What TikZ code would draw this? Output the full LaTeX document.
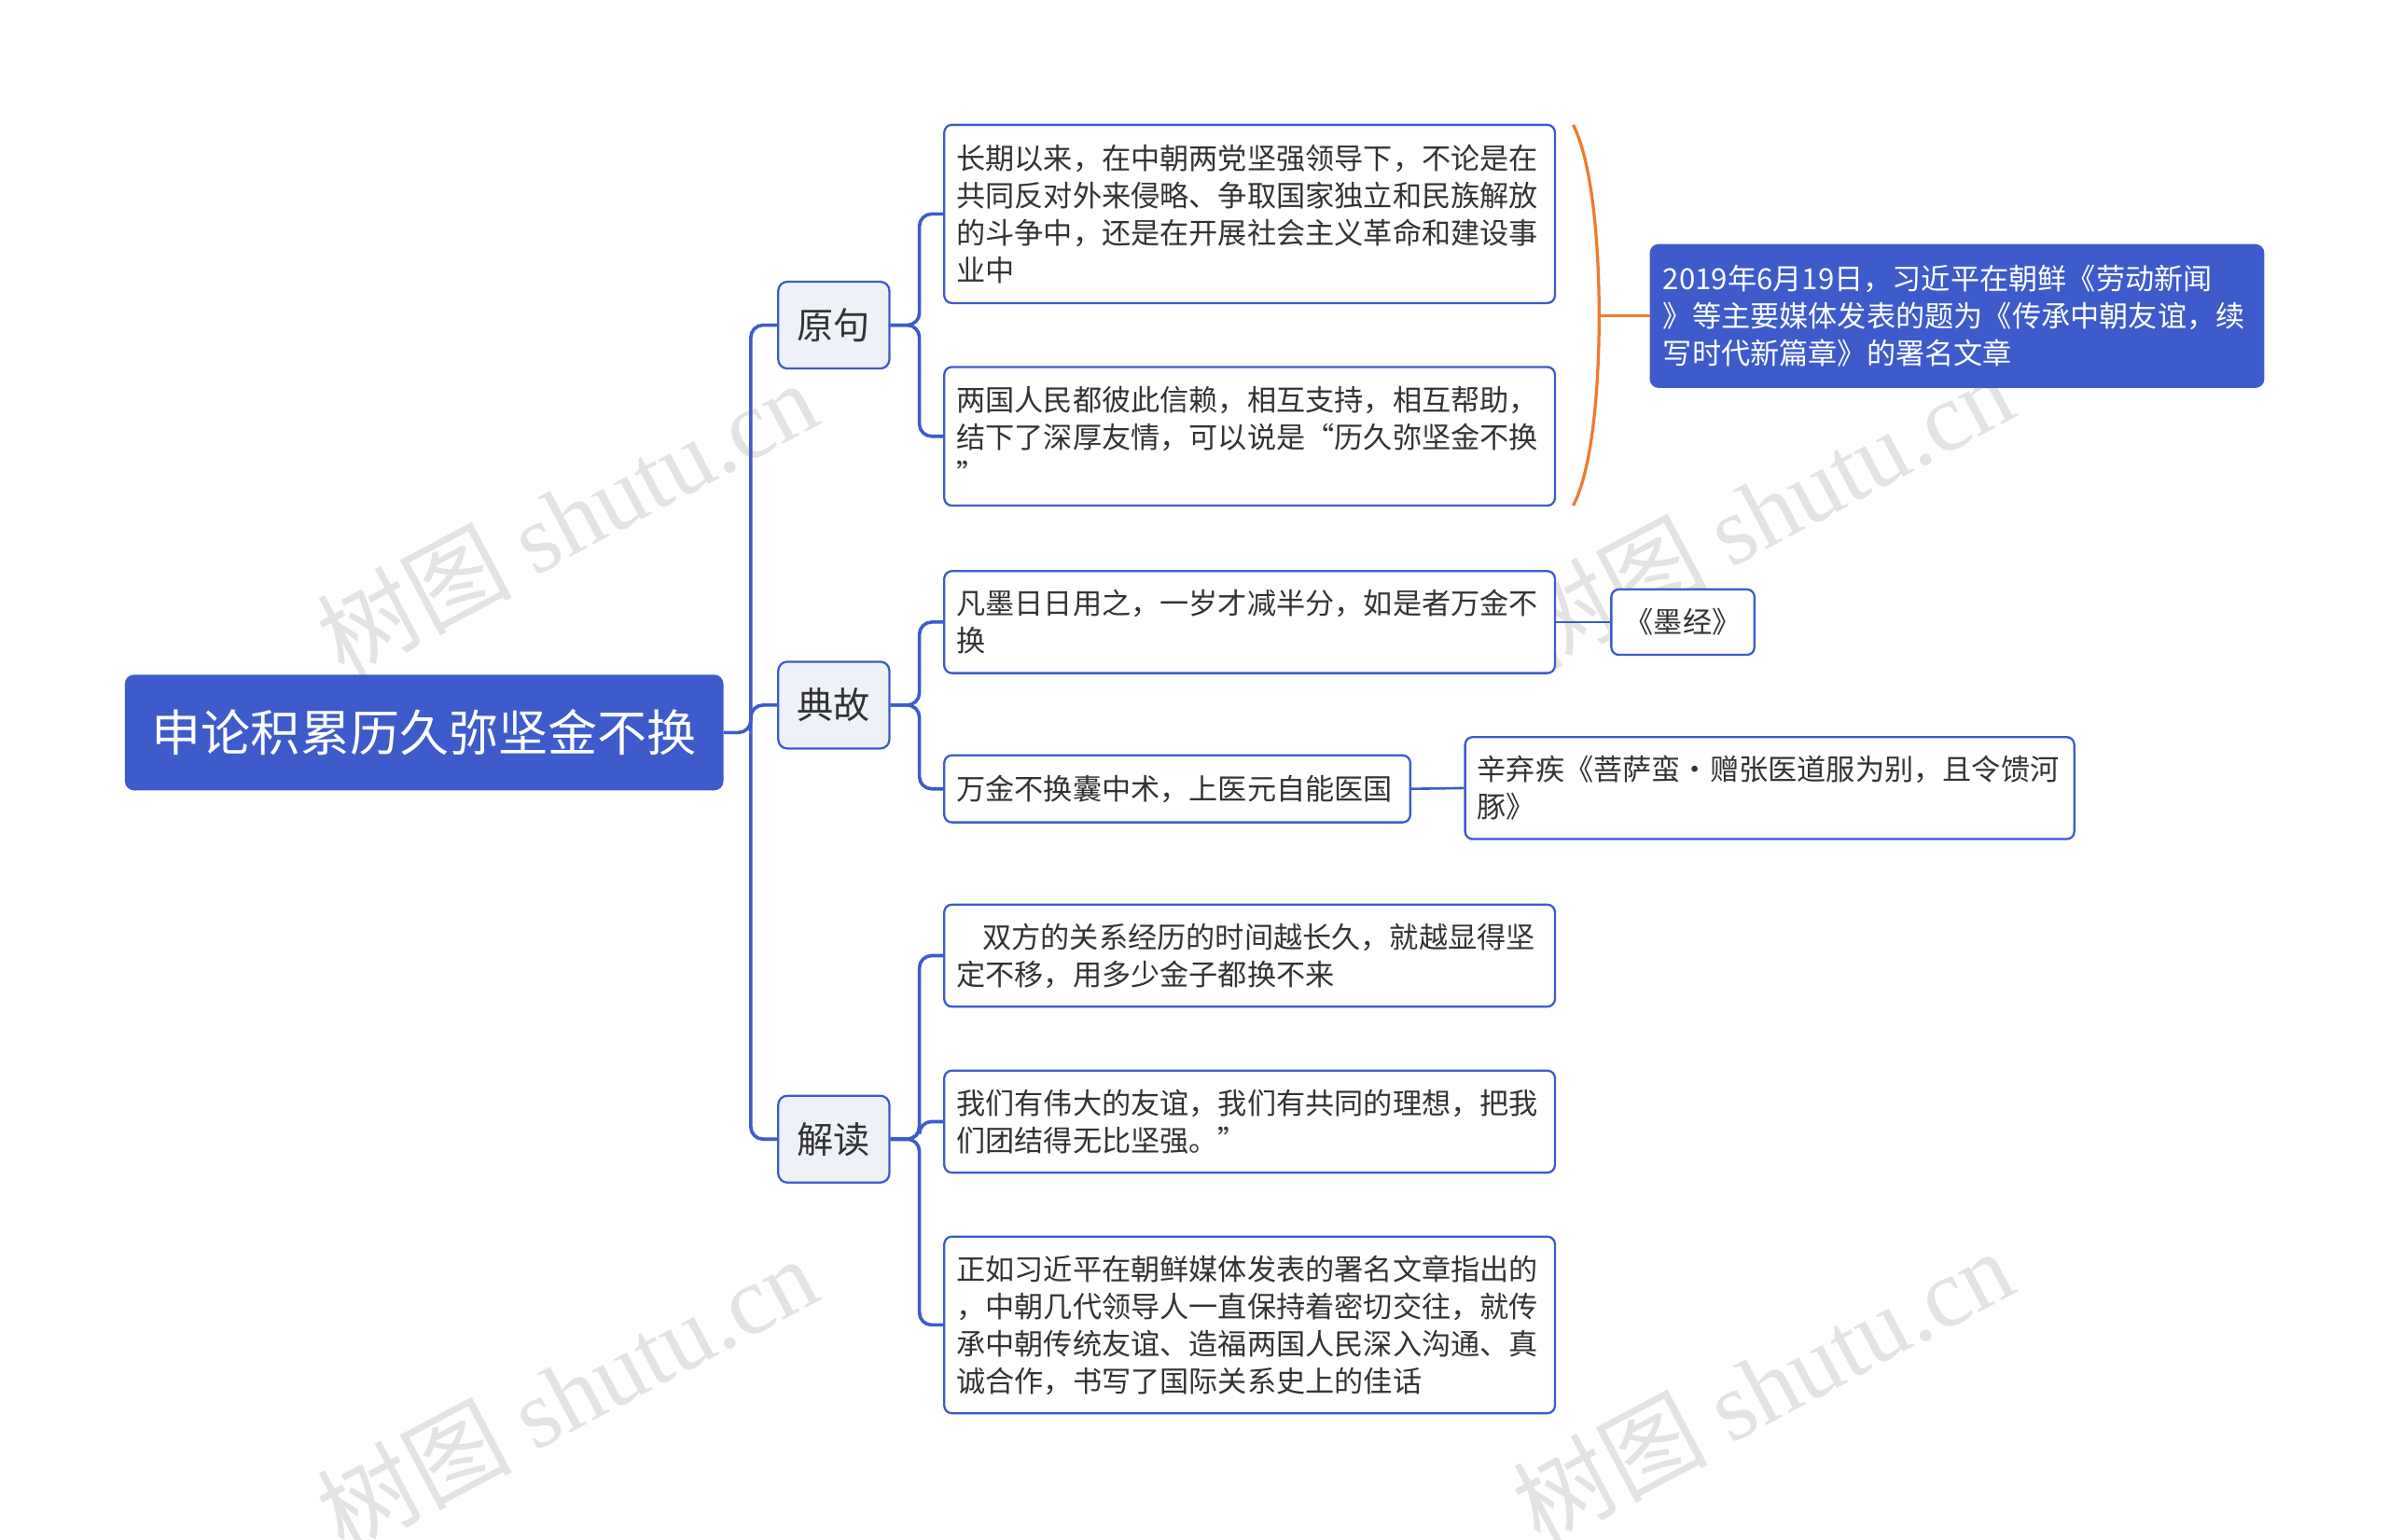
\documentclass[tikz,border=0pt]{standalone}
\usepackage{fontspec}
\setmainfont{Noto Sans CJK SC}
\newfontfamily\wmfont{Liberation Serif}
\definecolor{mblue}{HTML}{3D5BCB}
\definecolor{lfill}{HTML}{EEF1F8}
\definecolor{txt}{HTML}{333333}
\definecolor{mor}{HTML}{F07A2E}
\begin{document}
\begin{tikzpicture}[x=1pt,y=-1pt,
  leaf/.style={draw=mblue,line width=1.4pt,rounded corners=5pt,fill=white,text=txt,
    font=\fontsize{19.1}{24.5}\selectfont,align=left,inner sep=0pt},
  child/.style={draw=mblue,line width=1.4pt,rounded corners=6pt,fill=lfill,text=txt,
    font=\fontsize{24}{28}\selectfont,minimum width=73pt,minimum height=57pt,inner sep=0pt},
  conn/.style={draw=mblue,line width=2.2pt,rounded corners=8pt},
  wm/.style={text=gray!22,font=\fontsize{64}{64}\selectfont,rotate=28}]
\useasboundingbox (0,0) rectangle (1568,1011);
\fill[white] (0,0) rectangle (1568,1011);
% watermarks
\node[wm] (w1) at (372,340) {树图 {\wmfont shutu.cn}};
\node[wm] (w2) at (1157,335) {树图 {\wmfont shutu.cn}};
\node[wm] (w3) at (372,915) {树图 {\wmfont shutu.cn}};
\node[wm] (w4) at (1157,910) {树图 {\wmfont shutu.cn}};
% root
\node[fill=mblue,rounded corners=6pt,text=white,minimum width=393pt,minimum height=76pt,
  font=\fontsize{32.5}{36}\selectfont,inner sep=0pt] (root) at (278.5,481) {申论积累历久弥坚金不换};
\node[child] (c1) at (547.5,213.5) {原句};
\node[child] (c2) at (547.5,463) {典故};
\node[child] (c3) at (547.5,748) {解读};
% leaves
\node[leaf,minimum width=401pt,minimum height=117pt,text width=385pt] (l1) at (820.5,140.5)
 {长期以来，在中朝两党坚强领导下，不论是在\\共同反对外来侵略、争取国家独立和民族解放\\的斗争中，还是在开展社会主义革命和建设事\\业中};
\node[leaf,minimum width=401pt,minimum height=91pt,text width=385pt] (l2) at (820.5,286.5)
 {两国人民都彼此信赖，相互支持，相互帮助，\\结下了深厚友情，可以说是“历久弥坚金不换\\”};
\node[leaf,minimum width=401pt,minimum height=67pt,text width=385pt] (l3) at (820.5,408.5)
 {凡墨日日用之，一岁才减半分，如是者万金不\\换};
\node[leaf,minimum width=306pt,minimum height=44pt,text width=290pt] (l4) at (773,518)
 {万金不换囊中术，上医元自能医国};
\node[leaf,minimum width=401pt,minimum height=67pt,text width=385pt] (l5) at (820.5,627.5)
 {\hspace*{0.9em}双方的关系经历的时间越长久，就越显得坚\\定不移，用多少金子都换不来};
\node[leaf,minimum width=401pt,minimum height=67pt,text width=385pt] (l6) at (820.5,736.5)
 {我们有伟大的友谊，我们有共同的理想，把我\\们团结得无比坚强。”};
\node[leaf,minimum width=401pt,minimum height=116pt,text width=385pt] (l7) at (820.5,870)
 {正如习近平在朝鲜媒体发表的署名文章指出的\\，中朝几代领导人一直保持着密切交往，就传\\承中朝传统友谊、造福两国人民深入沟通、真\\诚合作，书写了国际关系史上的佳话};
\node[leaf,minimum width=94pt,minimum height=43pt,align=center] (m1) at (1105,408.5) {《墨经》};
\node[leaf,minimum width=400pt,minimum height=67pt,text width=384pt] (m2) at (1162,517.5)
 {辛弃疾《菩萨蛮·赠张医道服为别，且令馈河\\豚》};
\node[leaf,fill=mblue,draw=mblue,text=white,minimum width=402pt,minimum height=93pt,text width=386pt] (sb) at (1285,207.5)
 {2019年6月19日，习近平在朝鲜《劳动新闻\\》等主要媒体发表的题为《传承中朝友谊，续\\写时代新篇章》的署名文章};
% connectors
\coordinate (sp) at (493,481);
\draw[conn] (root.east) -- (sp) |- (c1.west);
\draw[conn] (sp) |- (c2.west);
\draw[conn] (sp) |- (c3.west);
\foreach \c/\l in {c1/l1,c1/l2,c2/l3,c2/l4,c3/l5,c3/l6,c3/l7}{
  \draw[conn] (\c.east) -- ++(19,0) |- (\l.west);
}
\draw[draw=mblue,line width=1.6pt] (l3.east) -- (m1.west);
\draw[draw=mblue,line width=1.6pt] (l4.east) -- (m2.west);
% brace
\coordinate (bt) at (1033,82);
\coordinate (bm) at (1050,207.5);
\coordinate (bb) at (1033,332);
\draw[mor,line width=2pt] (bt) .. controls (1047,110) and (1050,170) .. (bm)
  .. controls (1050,245) and (1047,305) .. (bb);
\draw[mor,line width=2pt] (bm) -- (sb.west);
\end{tikzpicture}
\end{document}
